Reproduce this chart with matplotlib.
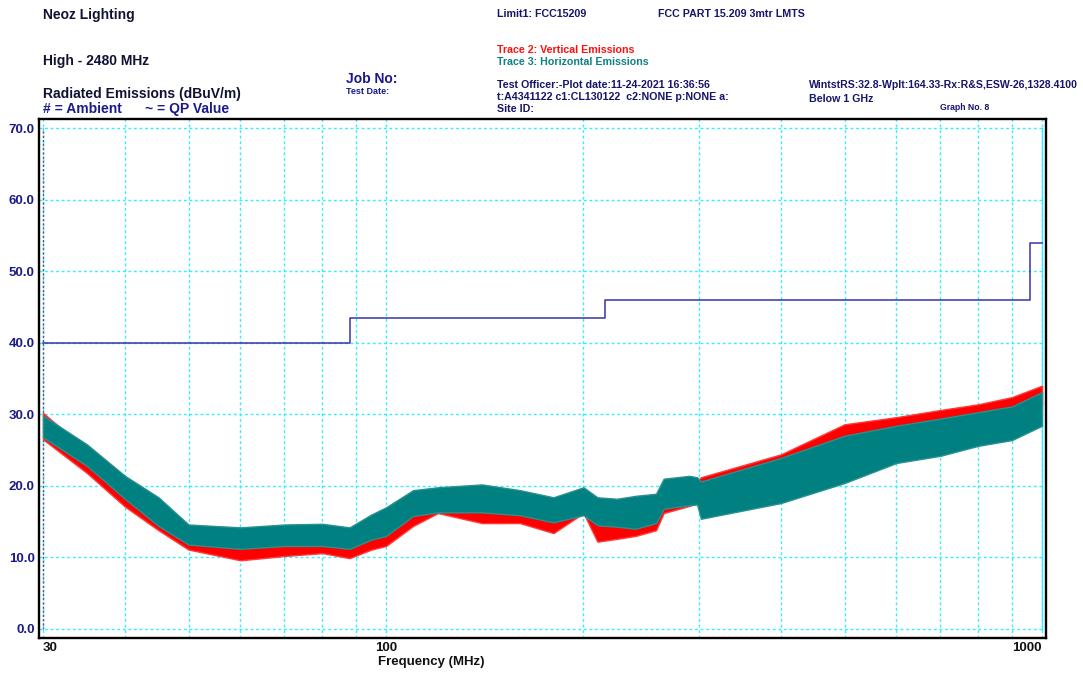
import numpy as np
import matplotlib
matplotlib.use("Agg")
import matplotlib.pyplot as plt

plt.rcParams['font.family'] = ['Liberation Sans', 'DejaVu Sans']

# ---------------- data ----------------
freq = [30, 35, 40, 45, 50, 60, 70, 80, 88, 95, 100, 110, 120, 140, 160, 180,
        200, 210, 225, 240, 258, 265, 290, 298, 302, 400, 500, 600, 700, 800, 900, 1000]
# Trace 3: Horizontal emissions (teal) envelope, dBuV/m
horiz_low = [26.8, 22.8, 18.2, 14.4, 11.8, 11.2, 11.6, 11.6, 11.2, 12.5, 13.0, 15.8, 16.3, 16.3, 15.9, 14.9,
             15.9, 14.5, 14.3, 14.0, 14.8, 16.8, 17.3, 17.4, 15.4, 17.6, 20.4, 23.2, 24.2, 25.6, 26.4, 28.4]
horiz_high = [29.8, 25.8, 21.4, 18.4, 14.6, 14.2, 14.6, 14.7, 14.2, 16.0, 17.0, 19.4, 19.8, 20.2, 19.4, 18.4,
              19.8, 18.4, 18.2, 18.6, 18.9, 21.0, 21.4, 21.2, 20.6, 23.9, 27.0, 28.4, 29.4, 30.3, 31.1, 33.1]
# Trace 2: Vertical emissions (red) envelope, dBuV/m
vert_low = [26.5, 21.8, 17.1, 13.8, 11.1, 9.6, 10.2, 10.6, 9.9, 11.1, 11.6, 14.4, 16.2, 14.8, 14.8, 13.4,
            16.2, 12.2, 12.6, 13.0, 13.8, 16.2, 17.2, 17.6, 17.8, 20.4, 25.0, 27.0, 27.8, 28.8, 29.8, 31.2]
vert_high = [30.2, 25.0, 20.4, 18.0, 14.2, 12.8, 13.2, 13.2, 12.8, 14.2, 15.2, 18.0, 18.8, 18.4, 18.0, 16.6,
             19.4, 15.6, 15.6, 16.6, 16.8, 18.8, 19.4, 20.6, 21.2, 24.4, 28.6, 29.6, 30.6, 31.4, 32.4, 34.0]
# FCC 15.209 3 m limit
limit_freq = [30, 88, 88, 216, 216, 960, 960, 1000]
limit_level = [40.0, 40.0, 43.5, 43.5, 46.0, 46.0, 54.0, 54.0]

yticks = [0, 10, 20, 30, 40, 50, 60, 70]
ytick_labels = ["0.0", "10.0", "20.0", "30.0", "40.0", "50.0", "60.0", "70.0"]
xticks = [30, 100, 1000]
xtick_labels = ["30", "100", "1000"]
xgrid = [30, 40, 50, 60, 70, 80, 90, 100, 200, 300, 400, 500, 600, 700, 800, 900, 1000]

# ---------------- figure ----------------
W, H = 1083, 675
fig = plt.figure(figsize=(W / 100, H / 100), dpi=100)
ax = fig.add_axes([39 / W, 1 - 638 / H, (1046 - 39) / W, (638 - 119) / H])
ax.set_xscale('log')
ppd = (1042 - 43) / np.log10(1000 / 30)
ax.set_xlim(30 * 10 ** (-4 / ppd), 1000 * 10 ** (4 / ppd))
ax.set_ylim(-9 / 7.157, 70 + 9 / 7.157)

grid_c = '#33eeff'
for g in yticks:
    ax.axhline(g, color=grid_c, lw=1.0, ls=(0, (2, 2)), zorder=1)
for g in xgrid:
    ax.axvline(g, color=grid_c, lw=1.0, ls=(0, (2, 2)), zorder=1)
ax.plot([1000, 1000], [0, 70], color=grid_c, lw=1.0, zorder=1)
ax.plot([30, 30], [0, 70], color='#555577', lw=1.0, ls=(0, (1.5, 1.5)), zorder=2)

ax.fill_between(freq, vert_low, vert_high, color='#ff0000', lw=1.0, edgecolor='#ff3a3a', zorder=3)
ax.fill_between(freq, horiz_low, horiz_high, color='#008080', lw=1.0, edgecolor='#2a9090', zorder=4)
ax.plot(limit_freq, limit_level, color='#3434aa', lw=1.1, zorder=5)

ax.set_yticks(yticks)
ax.set_yticklabels(ytick_labels, color='#1a1a8c', fontweight='bold', fontsize=9.5)
ax.set_xticks(xticks)
ax.set_xticklabels(xtick_labels, color='#111111', fontweight='bold', fontsize=9.5)
ax.xaxis.set_minor_locator(matplotlib.ticker.NullLocator())
ax.tick_params(axis='both', length=0, pad=3)
xl = ax.get_xticklabels()
xl[0].set_ha('left')
xl[2].set_ha('right')
for s in ax.spines.values():
    s.set_linewidth(1.7)
    s.set_color('black')

fig.text(431 / W, 1 - 662 / H, "Frequency (MHz)", ha='center', va='center',
         fontsize=9.5, fontweight='bold', color='#111111')

navy = '#15156a'
blue = '#1a1a8c'

def t(x, y, s, size=8, color=navy, weight='bold', ha='left'):
    fig.text(x / W, 1 - y / H, s, ha=ha, va='center', fontsize=size, fontweight=weight, color=color)

t(43, 15, "Neoz Lighting", 10, '#111133')
t(43, 61, "High - 2480 MHz", 10, '#111133')
t(43, 94, "Radiated Emissions (dBuV/m)", 10, '#111133')
t(43, 109, "# = Ambient      ~ = QP Value", 10, blue)
t(346, 79, "Job No:", 10, blue)
t(346, 92, "Test Date:", 6.5, blue)
t(497, 14, "Limit1: FCC15209", 7.7, navy)
t(658, 14, "FCC PART 15.209 3mtr LMTS", 7.7, navy)
t(497, 50, "Trace 2: Vertical Emissions", 7.7, '#ff1010')
t(497, 62, "Trace 3: Horizontal Emissions", 7.7, '#108080')
t(497, 85, "Test Officer:-Plot date:11-24-2021 16:36:56", 7.7, navy)
t(497, 97, "t:A4341122 c1:CL130122  c2:NONE p:NONE a:", 7.7, navy)
t(497, 109, "Site ID:", 7.7, navy)
t(809, 85, "WintstRS:32.8-Wplt:164.33-Rx:R&S,ESW-26,1328.4100", 7.6, navy)
t(809, 99, "Below 1 GHz", 7.7, navy)
t(940, 107, "Graph No. 8", 6.2, navy)

fig.savefig("out.png", dpi=100)
